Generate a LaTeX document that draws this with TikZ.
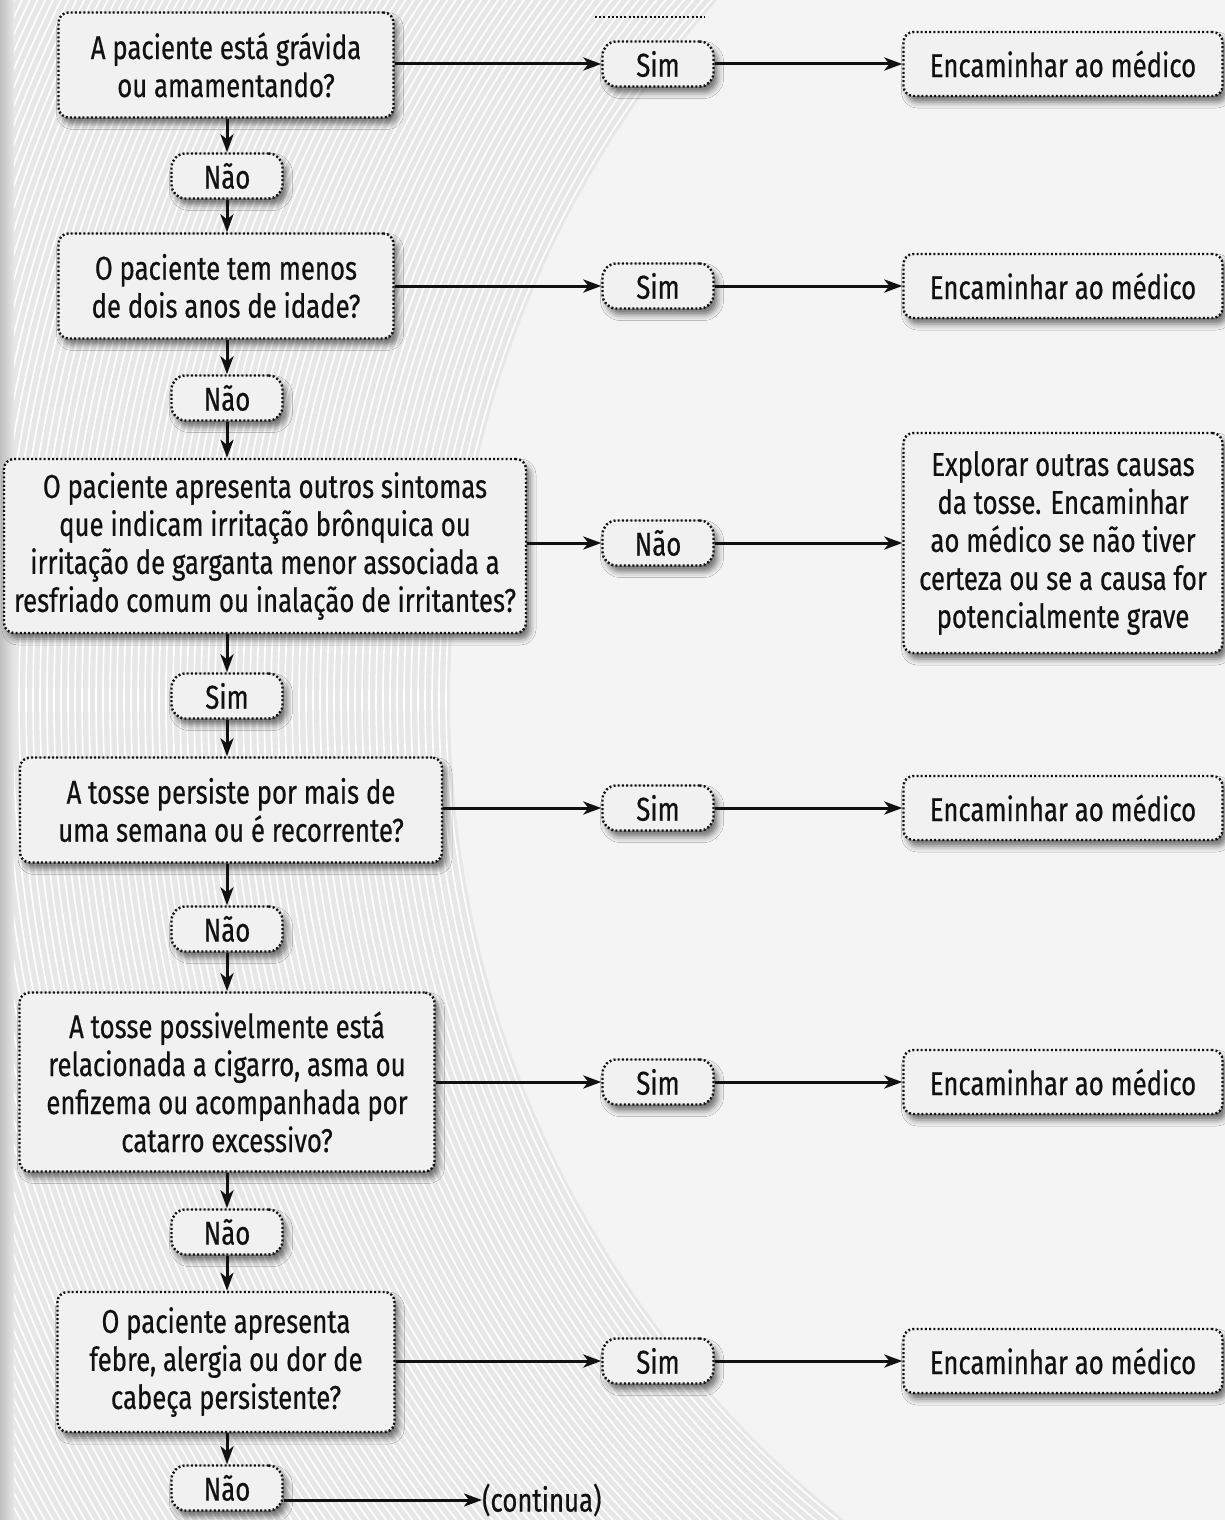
\documentclass[tikz,border=0pt]{standalone}
\usepackage{fontspec}
\setmainfont[FakeStretch=0.78,FakeBold=0.5]{Fira Sans}
\usetikzlibrary{arrows.meta,shadows.blur}
\definecolor{boxfill}{HTML}{F1F1F1}
\definecolor{ink}{HTML}{111111}
\definecolor{bandgray}{HTML}{E7E7E7}
\definecolor{paper}{HTML}{F4F4F4}

\begin{document}
\begin{tikzpicture}[x=1pt,y=-1pt,
  font=\fontsize{33}{38}\selectfont,
  dots/.style={line width=2.4pt, dash pattern=on 2pt off 2.2pt},
  card/.style={draw=ink, dots, fill=boxfill, rounded corners=10pt, align=center,
    inner sep=0pt, text=ink,
    blur shadow={shadow xshift=4pt, shadow yshift=-6pt, shadow blur radius=6pt, shadow opacity=55}},
  pill/.style={card, rounded corners=14pt, minimum width=111pt, minimum height=45pt},
  arr/.style={draw=ink, line width=3pt, -{Stealth[length=18pt,width=13pt,inset=5pt]}},
]
\useasboundingbox (0,0) rectangle (1225,1520);

% ---- background: light paper with a band of curved white stripes
\fill[paper] (0,0) rectangle (1225,1520);
\begin{scope}
  \clip (0,0) rectangle (1225,1520);
  \fill[bandgray, even odd rule] (1500,700) circle[radius=1720pt] (1500,700) circle[radius=1050pt];
  \foreach \r in {1054,1061,...,1720}
    \draw[white, line width=1.6pt] (1500,700) circle[radius=\r pt];
  \shade[left color=gray!50, right color=bandgray] (0,0) rectangle (14,1520);
\end{scope}

% ---- left column: questions and answers
\node[card, minimum width=335pt, minimum height=105pt] (b1) at (226,65)
  {A paciente está grávida\\ou amamentando?};
\node[pill] (n1) at (227,176) {Não};
\node[card, minimum width=335pt, minimum height=105pt] (b2) at (226,286)
  {O paciente tem menos\\de dois anos de idade?};
\node[pill] (n2) at (227,398) {Não};
\node[card, minimum width=522pt, minimum height=174pt] (b3) at (265,546)
  {O paciente apresenta outros sintomas\\que indicam irritação brônquica ou\\irritação de garganta menor associada a\\resfriado comum ou inalação de irritantes?};
\node[pill] (y3) at (227,696) {Sim};
\node[card, minimum width=422pt, minimum height=105pt] (b4) at (231,810)
  {A tosse persiste por mais de\\uma semana ou é recorrente?};
\node[pill] (n4) at (227,929) {Não};
\node[card, minimum width=415pt, minimum height=179pt] (b5) at (227,1082)
  {A tosse possivelmente está\\relacionada a cigarro, asma ou\\enfizema ou acompanhada por\\catarro excessivo?};
\node[pill] (n5) at (227,1232) {Não};
\node[card, minimum width=337pt, minimum height=140pt] (b6) at (226,1362)
  {O paciente apresenta\\febre, alergia ou dor de\\cabeça persistente?};
\node[pill] (n6) at (227,1488) {Não};
\node[anchor=west, inner sep=0pt, text=ink] (cont) at (482,1500) {(continua)};

% ---- middle column: branch labels
\node[pill] (s1) at (658,64) {Sim};
\node[pill] (s2) at (658,286) {Sim};
\node[pill] (s3) at (658,543) {Não};
\node[pill] (s4) at (658,808) {Sim};
\node[pill] (s5) at (658,1082) {Sim};
\node[pill] (s6) at (658,1361) {Sim};

% ---- right column: outcomes
\node[card, minimum width=319pt, minimum height=64pt] (r1) at (1063,64) {Encaminhar ao médico};
\node[card, minimum width=319pt, minimum height=64pt] (r2) at (1063,286) {Encaminhar ao médico};
\node[card, minimum width=319pt, minimum height=220pt] (r3) at (1063,543)
  {Explorar outras causas\\da tosse. Encaminhar\\ao médico se não tiver\\certeza ou se a causa for\\potencialmente grave};
\node[card, minimum width=319pt, minimum height=64pt] (r4) at (1063,808) {Encaminhar ao médico};
\node[card, minimum width=319pt, minimum height=64pt] (r5) at (1063,1082) {Encaminhar ao médico};
\node[card, minimum width=319pt, minimum height=64pt] (r6) at (1063,1361) {Encaminhar ao médico};

% dotted edge of a box above the frame
\draw[ink, dots] (595,17) -- (705,17);

% ---- vertical flow
\draw[arr] (b1.south -| n1) -- (n1.north);
\draw[arr] (n1.south) -- (n1.south |- b2.north);
\draw[arr] (b2.south -| n2) -- (n2.north);
\draw[arr] (n2.south) -- (n2.south |- b3.north);
\draw[arr] (b3.south -| y3) -- (y3.north);
\draw[arr] (y3.south) -- (y3.south |- b4.north);
\draw[arr] (b4.south -| n4) -- (n4.north);
\draw[arr] (n4.south) -- (n4.south |- b5.north);
\draw[arr] (b5.south -| n5) -- (n5.north);
\draw[arr] (n5.south) -- (n5.south |- b6.north);
\draw[arr] (b6.south -| n6) -- (n6.north);
\draw[arr] (n6.east |- cont.west) -- (cont.west);

% ---- horizontal branches
\foreach \q/\s/\r in {b1/s1/r1, b2/s2/r2, b3/s3/r3, b4/s4/r4, b5/s5/r5, b6/s6/r6} {
  \draw[arr] (\q.east |- \s.west) -- (\s.west);
  \draw[arr] (\s.east) -- (\s.east -| \r.west);
}
\end{tikzpicture}
\end{document}
